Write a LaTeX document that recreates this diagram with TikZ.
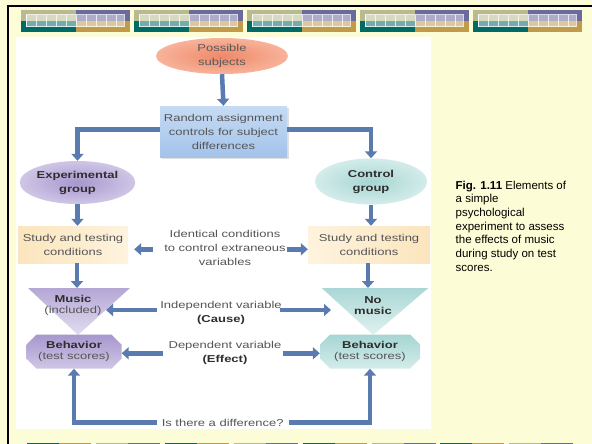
\documentclass[tikz,border=0pt]{standalone}
\usepackage{fontspec}
\setmainfont{Liberation Sans}
\newfontfamily\flowfont[FakeStretch=1.3]{Liberation Sans}
\usetikzlibrary{arrows.meta,shapes.misc,shapes.geometric,shadows}
\definecolor{bgc}{HTML}{FCFCD6}
\definecolor{olivec}{HTML}{B9BA8F}
\definecolor{purpc}{HTML}{6A6A9E}
\definecolor{tealc}{HTML}{006B66}
\definecolor{goldc}{HTML}{C19B4A}
\definecolor{arrc}{HTML}{5A7BB0}
\definecolor{txtc}{HTML}{555555}
\definecolor{btxtc}{HTML}{2E2E2E}
\definecolor{salmonA}{HTML}{F08868}
\definecolor{salmonB}{HTML}{F7B39A}
\definecolor{blueA}{HTML}{A3C3EA}
\definecolor{blueB}{HTML}{C6DBF4}
\definecolor{purA}{HTML}{A797CD}
\definecolor{purB}{HTML}{CFC6E6}
\definecolor{tlA}{HTML}{A6D5D3}
\definecolor{tlB}{HTML}{D3ECEA}
\definecolor{creamA}{HTML}{FBE5BD}
\definecolor{creamB}{HTML}{FEF3DE}
\begin{document}
\begin{tikzpicture}[x=1pt,y=-1pt,
  ftxt/.style={font=\flowfont\fontsize{10}{14}\selectfont, text=txtc, align=center, inner sep=0pt},
  tight/.style={font=\flowfont\fontsize{10}{11}\selectfont},
  ell/.style={ellipse, inner sep=0pt, draw=none},
  conn/.style={draw=arrc, line width=4.5pt, -{Triangle[width=12pt,length=7pt]}},
  capt/.style={font=\fontsize{11.5}{13.7}\selectfont, text=black, align=left, inner sep=0pt}
]
\useasboundingbox (0,0) rectangle (592,444);
\fill[bgc] (0,0) rectangle (592,444);
% frame
\draw[line width=2pt, black] (8.3,450) -- (8.3,6) -- (600,6);
% top banner
\foreach \i in {0,...,4}{
  \pgfmathsetmacro{\xa}{21+113*\i}
  \fill[olivec] (\xa,10) rectangle ++(54.5,11);
  \fill[purpc] (\xa+54.5,10) rectangle ++(54.5,11);
  \fill[tealc] (\xa,21) rectangle ++(54.5,11);
  \fill[goldc] (\xa+54.5,21) rectangle ++(54.5,11);
  \fill[white,opacity=0.45] (\xa+5,14.7) rectangle (\xa+103,26.7);
  \foreach \k in {0,...,9}{
    \draw[white,opacity=0.75,line width=0.6pt] (\xa+5+10*\k,14.7) -- ++(0,12);
  }
  \draw[white,opacity=0.75,line width=0.6pt] (\xa+5,14.7) rectangle (\xa+103,26.7);
}
% bottom banner
\foreach \k/\ca/\cb in {0/tealc/goldc,1/olivec/purpc,2/tealc/goldc,3/olivec/purpc,4/tealc/goldc,5/olivec/purpc,6/tealc/goldc,7/olivec/purpc}{
  \pgfmathsetmacro{\xb}{27+68.9*\k}
  \fill[\ca] (\xb,442.7) rectangle ++(32,2);
  \fill[\cb] (\xb+32,442.7) rectangle ++(32,2);
}
% white panel
\fill[white] (16,37.5) rectangle (431,428.5);

% shapes
\node[ell, minimum width=132pt, minimum height=36pt, inner color=salmonA, outer color=salmonB, ftxt, text=btxtc!80] (subj) at (222,56) {Possible\\subjects};
\node[rectangle, minimum width=127pt, minimum height=51pt, top color=blueB, bottom color=blueA, ftxt, drop shadow={opacity=0.25, shadow xshift=2pt, shadow yshift=-2pt}] (rand) at (223.5,131.5) {Random assignment\\controls for subject\\differences};
\node[ell, minimum width=115pt, minimum height=43pt, inner color=purA, outer color=purB, ftxt, text=btxtc, font=\flowfont\bfseries\fontsize{10}{14}\selectfont] (expg) at (77.5,182.5) {Experimental\\group};
\node[ell, minimum width=112pt, minimum height=46pt, inner color=tlA, outer color=tlB, ftxt, text=btxtc, font=\flowfont\bfseries\fontsize{10}{14}\selectfont] (ctlg) at (371,181.5) {Control\\group};
\node[rectangle, minimum width=110pt, minimum height=37pt, left color=creamA, right color=creamB, ftxt] (studyL) at (73,244.5) {Study and testing\\conditions};
\node[rectangle, minimum width=122pt, minimum height=37pt, left color=creamB, right color=creamA, ftxt] (studyR) at (369,244.5) {Study and testing\\conditions};
\node[ftxt] (ident) at (225,247.5) {Identical conditions\\to control extraneous\\variables};

% triangles
\shade[top color=purA!85, bottom color=purB!60] (28,288) -- (130,288) -- (78,335) -- cycle;
\shade[top color=tlA!95, bottom color=tlB!70] (321.7,288) -- (428.3,288) -- (373.3,335) -- cycle;
\coordinate (mLtop) at (77,288);
\coordinate (mRtop) at (368,288);
\node[ftxt, tight] (musL) at (73,305.5) {\textbf{\color{btxtc}Music}\\(included)};
\node[ftxt, tight, text=btxtc] (musR) at (373,305.5) {\textbf{No}\\\textbf{music}};
\node[ftxt] (indep) at (221,312.7) {Independent variable\\\textbf{\color{btxtc}(Cause)}};

% behavior
\node[chamfered rectangle, chamfered rectangle xsep=5pt, chamfered rectangle ysep=5pt, minimum width=95pt, minimum height=34pt, inner sep=0pt, top color=purA, bottom color=purB, ftxt, tight] (behL) at (74,351.5) {\textbf{\color{btxtc}Behavior}\\(test scores)};
\node[chamfered rectangle, chamfered rectangle xsep=5pt, chamfered rectangle ysep=5pt, minimum width=100pt, minimum height=34pt, inner sep=0pt, top color=tlA, bottom color=tlB, ftxt, tight] (behR) at (370,351.5) {\textbf{\color{btxtc}Behavior}\\(test scores)};
\node[ftxt] (dep) at (225,353.3) {Dependent variable\\\textbf{\color{btxtc}(Effect)}};
\node[ftxt, inner xsep=5pt] (diff) at (222.7,422.5) {Is there a difference?};

% connectors
\draw[conn] (subj.south) -- (rand.north);
\draw[conn] ([yshift=2pt]rand.west) -| (expg.north);
\draw[conn] ([yshift=2pt]rand.east) -| (ctlg.north);
\draw[conn] (expg.south) -- (expg.south |- studyL.north);
\draw[conn] (ctlg.south) -- (ctlg.south |- studyR.north);
\coordinate (iLs) at (153,249.3);
\coordinate (iRs) at (287,249.3);
\draw[conn, shorten >=6pt] (iLs) -- (studyL.east |- iLs);
\draw[conn] (iRs) -- (studyR.west |- iRs);
\draw[conn] (studyL.south -| mLtop) -- (mLtop);
\draw[conn] (studyR.south -| mRtop) -- (mRtop);
\coordinate (pLs) at (156.7,310);
\coordinate (pLe) at (106,310);
\coordinate (pRs) at (280,310);
\coordinate (pRe) at (331,310);
\draw[conn] (pLs) -- (pLe);
\draw[conn] (pRs) -- (pRe);
\coordinate (dLs) at (163,353.3);
\coordinate (dRs) at (283,353.3);
\draw[conn] (dLs) -- (behL.east |- dLs);
\draw[conn] (dRs) -- (behR.west |- dRs);
\draw[conn] (diff.west) -| (behL.south);
\draw[conn] (diff.east) -| (behR.south);

% caption
\node[capt, anchor=north west] (cap) at (455.5,180.5) {\textbf{Fig. 1.11} Elements of\\a simple\\psychological\\experiment to assess\\the effects of music\\during study on test\\scores.};
\end{tikzpicture}
\end{document}
